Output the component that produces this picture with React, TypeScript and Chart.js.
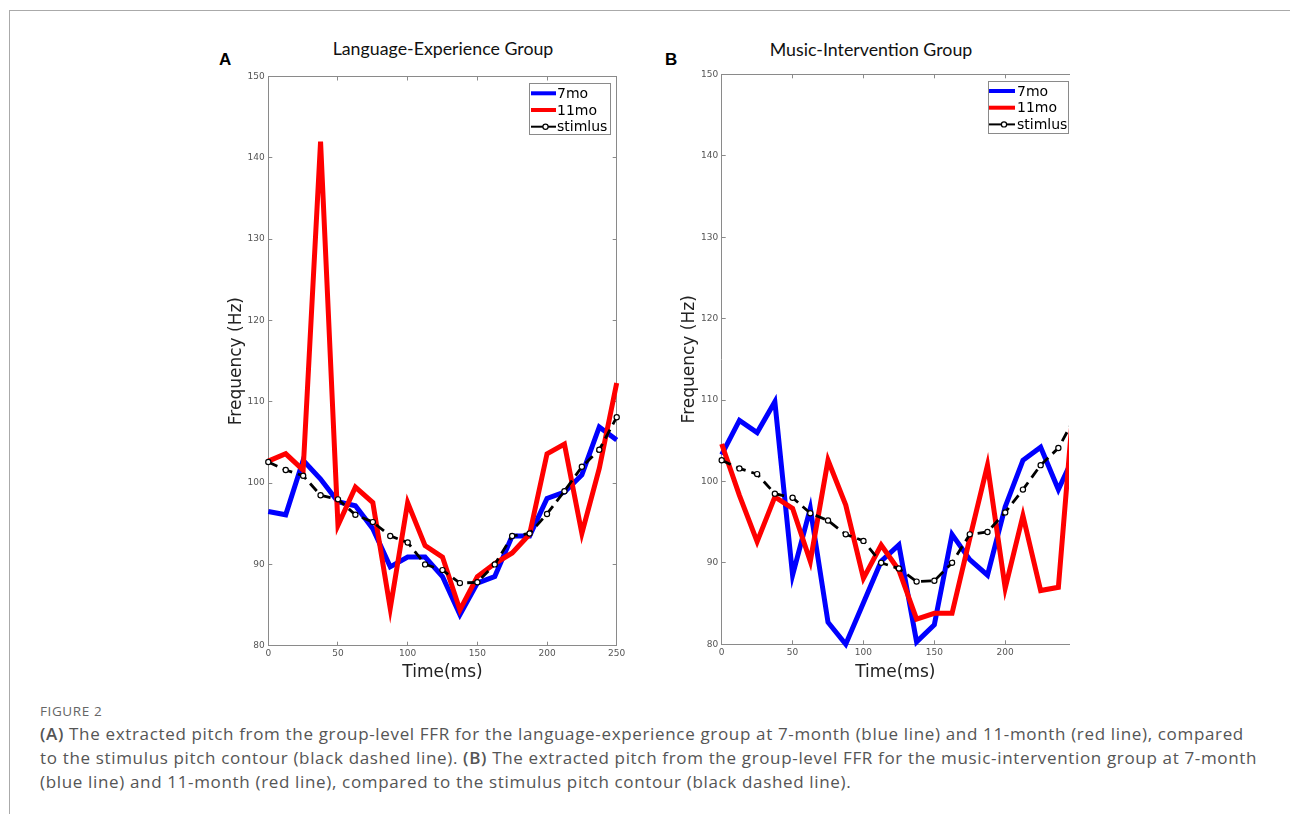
import React, { useEffect, useRef } from "react";
import { Chart, registerables } from "chart.js";

Chart.register(...registerables);

// ---- data ----
const TIME_MS = [0, 12.5, 25, 37.5, 50, 62.5, 75, 87.5, 100, 112.5, 125, 137.5, 150, 162.5, 175, 187.5, 200, 212.5, 225, 237.5, 250];
const STIMULUS = [102.6, 101.6, 100.9, 98.5, 98.0, 96.1, 95.2, 93.5, 92.7, 90.0, 89.3, 87.7, 87.8, 90.0, 93.5, 93.8, 96.2, 99.0, 102.0, 104.1, 108.1];
const LANG_7MO = [96.5, 96.1, 102.8, 100.5, 97.7, 97.2, 94.4, 89.7, 90.9, 90.9, 88.5, 83.8, 87.7, 88.5, 93.5, 93.5, 98.1, 98.9, 101.0, 106.9, 105.3];
const LANG_11MO = [102.7, 103.6, 101.6, 142.0, 94.8, 99.5, 97.6, 84.6, 97.6, 92.3, 90.9, 84.4, 88.5, 90.1, 91.4, 93.7, 103.6, 104.8, 93.8, 101.8, 112.3];
const MUSIC_7MO = [103.3, 107.5, 106.0, 109.8, 88.5, 96.7, 82.7, 80.0, 85.1, 90.2, 92.2, 80.3, 82.4, 93.5, 90.4, 88.5, 96.9, 102.6, 104.2, 99.0, 103.7];
const MUSIC_11MO = [104.6, 98.3, 92.6, 98.1, 96.7, 90.2, 102.6, 97.1, 88.1, 92.2, 89.1, 83.1, 83.8, 83.8, 93.0, 102.0, 86.9, 95.8, 86.6, 87.0, 113.5];
const SERIES_LABELS = ["7mo", "11mo", "stimlus"];
const PANEL_TITLES = ["Language-Experience Group", "Music-Intervention Group"];
const Y_MIN = 80;
const Y_MAX = 150;
const Y_STEP = 10;
const X_STEP = 50;

const AXIS_COLOR = "#8a8a8a";
const TICK_COLOR = "#555555";

const boxLegendPlugin = {
  id: "boxLegend",
  afterDraw(chart: any, _args: any, opts: any) {
    const { ctx, chartArea } = chart;
    const x0 = Math.round(chartArea.right - opts.right - opts.width);
    const y0 = Math.round(chartArea.top + opts.top);
    ctx.save();
    ctx.fillStyle = "#ffffff";
    ctx.fillRect(x0, y0, opts.width, opts.height);
    ctx.strokeStyle = AXIS_COLOR;
    ctx.lineWidth = 1;
    ctx.setLineDash([]);
    ctx.strokeRect(x0 + 0.5, y0 + 0.5, opts.width - 1, opts.height - 1);
    ctx.font = '14px "DejaVu Sans"';
    ctx.textBaseline = "middle";
    ctx.textAlign = "left";
    chart.data.datasets.forEach((ds: any, i: number) => {
      const y = y0 + opts.firstRow + i * opts.rowGap;
      const lx0 = x0 + opts.lineX0;
      const lx1 = x0 + opts.lineX1;
      const marker = ds.pointRadius > 0;
      ctx.beginPath();
      ctx.strokeStyle = ds.borderColor;
      ctx.lineWidth = marker ? 2 : 4;
      ctx.moveTo(lx0, y);
      ctx.lineTo(lx1, y);
      ctx.stroke();
      if (marker) {
        ctx.beginPath();
        ctx.arc((lx0 + lx1) / 2 + 2, y, 2.6, 0, Math.PI * 2);
        ctx.fillStyle = "#ffffff";
        ctx.fill();
        ctx.lineWidth = 1.2;
        ctx.stroke();
      }
      ctx.fillStyle = "#000000";
      ctx.fillText(ds.label, x0 + opts.textX, y + 1);
    });
    ctx.restore();
  },
};

type Area = { left: number; right: number; top: number; bottom: number };
type PanelProps = {
  left: number;
  top: number;
  width: number;
  height: number;
  s7: number[];
  s11: number[];
  xMax: number;
  area: Area;
  mirrorRight: boolean;
  yTitleCenter: number;
  legend: any;
};

function Panel(p: PanelProps) {
  const ref = useRef<HTMLCanvasElement | null>(null);
  useEffect(() => {
    if (!ref.current) return;
    const rightSpace = p.width - p.area.right;
    const topH = p.area.top;
    const botH = p.height - p.area.bottom;
    const toPts = (arr: number[]) => TIME_MS.map((t, i) => ({ x: t, y: arr[i] }));
    const clip = p.mirrorRight ? 4 : { left: 6, top: 6, right: 0, bottom: 6 };
    const tickFont = { family: "DejaVu Sans", size: 9 };
    const gridCommon = {
      drawOnChartArea: false,
      drawTicks: true,
      tickLength: -4,
      color: AXIS_COLOR,
      lineWidth: 1,
    };
    const border = { display: true, color: AXIS_COLOR, width: 1 };
    const scales: any = {
      x: {
        type: "linear",
        position: "bottom",
        min: 0,
        max: p.xMax,
        ticks: {
          stepSize: X_STEP,
          includeBounds: false,
          font: tickFont,
          color: TICK_COLOR,
          padding: 7,
          maxRotation: 0,
        },
        grid: gridCommon,
        border,
        title: {
          display: true,
          text: "Time(ms)",
          font: { family: "DejaVu Sans", size: 17 },
          color: "#222222",
          padding: { top: 0, bottom: 7.5 },
        },
        afterFit: (s: any) => {
          s.height = botH;
        },
      },
      x2: {
        type: "linear",
        position: "top",
        min: 0,
        max: p.xMax,
        ticks: { stepSize: X_STEP, includeBounds: false, display: false },
        grid: gridCommon,
        border,
        afterFit: (s: any) => {
          s.height = topH;
        },
      },
      y: {
        type: "linear",
        position: "left",
        min: Y_MIN,
        max: Y_MAX,
        ticks: { stepSize: Y_STEP, font: tickFont, color: TICK_COLOR, padding: 7.5 },
        grid: gridCommon,
        border,
        title: {
          display: true,
          text: "Frequency (Hz)",
          font: { family: "DejaVu Sans", size: 17 },
          color: "#222222",
          padding: { top: p.yTitleCenter - 10.2, bottom: 0 },
        },
        afterFit: (s: any) => {
          s.width = p.area.left;
        },
      },
    };
    if (p.mirrorRight) {
      scales.y2 = {
        type: "linear",
        position: "right",
        min: Y_MIN,
        max: Y_MAX,
        ticks: { stepSize: Y_STEP, display: false },
        grid: gridCommon,
        border,
        afterFit: (s: any) => {
          s.width = rightSpace;
        },
      };
    }
    const chart = new Chart(ref.current, {
      type: "line",
      data: {
        datasets: [
          {
            label: SERIES_LABELS[0],
            data: toPts(p.s7),
            borderColor: "#0000ff",
            backgroundColor: "#0000ff",
            borderWidth: 5,
            pointRadius: 0,
            tension: 0,
            order: 2,
            clip,
          },
          {
            label: SERIES_LABELS[1],
            data: toPts(p.s11),
            borderColor: "#ff0000",
            backgroundColor: "#ff0000",
            borderWidth: 5,
            pointRadius: 0,
            tension: 0,
            order: 1,
            clip,
          },
          {
            label: SERIES_LABELS[2],
            data: toPts(STIMULUS),
            borderColor: "#000000",
            backgroundColor: "#000000",
            borderWidth: 2.8,
            borderDash: [10, 6],
            pointRadius: 2.6,
            pointBackgroundColor: "#ffffff",
            pointBorderColor: "#000000",
            pointBorderWidth: 1.2,
            tension: 0,
            order: 0,
            clip,
          },
        ] as any,
      },
      options: {
        responsive: false,
        maintainAspectRatio: false,
        animation: false,
        layout: { padding: { left: 0, top: 0, bottom: 0, right: p.mirrorRight ? 0 : rightSpace } },
        scales,
        plugins: {
          legend: { display: false },
          tooltip: { enabled: false },
          title: { display: false },
          boxLegend: p.legend,
        } as any,
        events: [],
      },
      plugins: [boxLegendPlugin],
    });
    return () => chart.destroy();
  }, []);
  return (
    <canvas
      ref={ref}
      width={p.width}
      height={p.height}
      style={{ position: "absolute", left: p.left, top: p.top, width: p.width, height: p.height }}
    />
  );
}

const titleStyle: React.CSSProperties = {
  position: "absolute",
  width: 400,
  textAlign: "center",
  fontFamily: "Lato, 'Open Sans', sans-serif",
  fontSize: 17.8,
  lineHeight: "20px",
  color: "#111",
  whiteSpace: "nowrap",
};
const labelStyle: React.CSSProperties = {
  position: "absolute",
  fontFamily: "'Liberation Sans', Arial, sans-serif",
  fontWeight: "bold",
  fontSize: 17,
  lineHeight: "20px",
  color: "#000",
};

export default function App() {
  return (
    <div
      style={{
        position: "absolute",
        left: 0,
        top: 0,
        width: 1290,
        height: 814,
        overflow: "hidden",
        background: "#fff",
      }}
    >
      <div
        style={{
          position: "absolute",
          left: 9,
          top: 10,
          width: 1300,
          height: 820,
          borderLeft: "1px solid #aaaaaa",
          borderTop: "1px solid #aaaaaa",
        }}
      />
      <div style={{ ...titleStyle, left: 443 - 200, top: 37.5 }}>{PANEL_TITLES[0]}</div>
      <div style={{ ...titleStyle, left: 871 - 200, top: 38.5 }}>{PANEL_TITLES[1]}</div>
      <div style={{ ...labelStyle, left: 219, top: 50 }}>A</div>
      <div style={{ ...labelStyle, left: 665, top: 50 }}>B</div>
      <Panel
        left={200}
        top={30}
        width={440}
        height={660}
        s7={LANG_7MO}
        s11={LANG_11MO}
        xMax={250}
        area={{ left: 68.3, right: 416.7, top: 46.5, bottom: 615.7 }}
        mirrorRight={true}
        yTitleCenter={37}
        legend={{ right: 5.7, top: 6.5, width: 82, height: 52, firstRow: 10.3, rowGap: 16.7, lineX0: 2, lineX1: 27, textX: 28 }}
      />
      <Panel
        left={655}
        top={30}
        width={440}
        height={660}
        s7={MUSIC_7MO}
        s11={MUSIC_11MO}
        xMax={245}
        area={{ left: 66.7, right: 414, top: 44.3, bottom: 614.3 }}
        mirrorRight={false}
        yTitleCenter={35}
        legend={{ right: 0, top: 6.7, width: 81, height: 53, firstRow: 10, rowGap: 16.7, lineX0: 1, lineX1: 27, textX: 29 }}
      />
      <div
        style={{
          position: "absolute",
          left: 40,
          top: 703,
          fontFamily: "'Open Sans', sans-serif",
          fontSize: 13.5,
          lineHeight: "16px",
          color: "#666",
          letterSpacing: 0.6,
          whiteSpace: "nowrap",
        }}
      >
        FIGURE 2
      </div>
      <div
        style={{
          position: "absolute",
          left: 40,
          top: 722,
          fontFamily: "'Open Sans', sans-serif",
          fontSize: 17,
          lineHeight: "24px",
          color: "#555",
          letterSpacing: 0.66,
          whiteSpace: "nowrap",
        }}
      >
        <b style={{ fontWeight: 600 }}>(A)</b> The extracted pitch from the group-level FFR for the language-experience group at 7-month (blue line) and 11-month (red line), compared
        <br />
        to the stimulus pitch contour (black dashed line). <b style={{ fontWeight: 600 }}>(B)</b> The extracted pitch from the group-level FFR for the music-intervention group at 7-month
        <br />
        (blue line) and 11-month (red line), compared to the stimulus pitch contour (black dashed line).
      </div>
    </div>
  );
}
